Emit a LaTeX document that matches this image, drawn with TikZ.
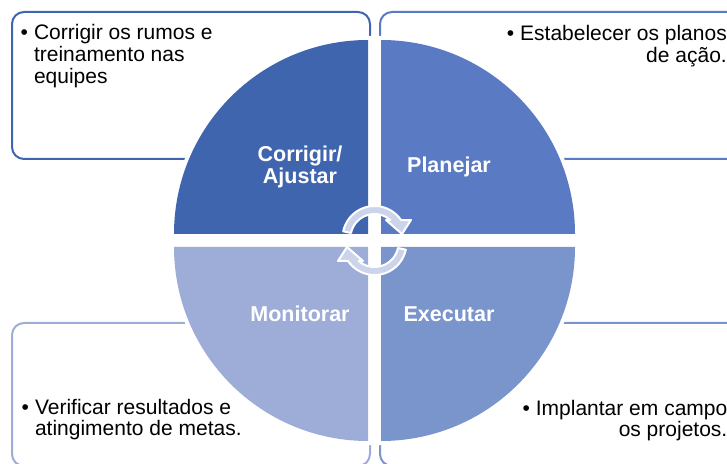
\documentclass[tikz,border=0pt]{standalone}
\usepackage{fontspec}
\setmainfont{Liberation Sans}

\definecolor{qone}{HTML}{3F65AF}
\definecolor{qtwo}{HTML}{5A7BC4}
\definecolor{qthree}{HTML}{7A95CC}
\definecolor{qfour}{HTML}{9EADD8}
\definecolor{arrowfill}{HTML}{CCD4EB}

\begin{document}
\begin{tikzpicture}[
        x=1pt, y=1pt,
        quad/.style={fill=#1, preaction={draw=white, line width=8pt}},
        lbl/.style={text=white, font=\fontsize{21.5}{21}\selectfont\bfseries, inner sep=0pt, anchor=base}
        ]
    % Define styles
    \tikzstyle{frame} = [line width=2pt, rounded corners=12pt]
    \tikzstyle{bullets} = [font=\fontsize{21}{21.5}\selectfont, inner sep=0pt]
    \tikzstyle{cycarrow} = [fill=arrowfill, draw=white, line width=2pt, line join=round]

    \useasboundingbox (0,0) rectangle (727,463);
    \clip (0,0) rectangle (727,463);

    % Define text boxes behind the circle
    \draw[frame, draw=qone] (12,304) rectangle (370,451);
    \draw[frame, draw=qtwo] (380,304) rectangle (745,451);
    \draw[frame, draw=qfour] (12,-3) rectangle (370,140);
    \draw[frame, draw=qthree] (380,-3) rectangle (745,140);

    % Define the four quarters
    \path[quad=qone] (368,229) -- (368,423) arc[start angle=90, end angle=180, radius=194] -- cycle;
    \path[quad=qtwo] (381,229) -- (575,229) arc[start angle=0, end angle=90, radius=194] -- cycle;
    \path[quad=qthree] (381,216) -- (381,22) arc[start angle=-90, end angle=0, radius=194] -- cycle;
    \path[quad=qfour] (368,216) -- (174,216) arc[start angle=180, end angle=270, radius=194] -- cycle;

    % Draw the two turning arrows
    \begin{scope}[shift={(374.5,225)}]
        \filldraw[cycarrow] (168:32) arc[start angle=168, end angle=34, radius=32] -- (36.5,18) -- (27.5,4) -- (11.5,18) -- (15.9,18) arc[start angle=48.5, end angle=168, radius=24] -- cycle;
    \end{scope}
    \begin{scope}[shift={(374.5,220)}, rotate=180]
        \filldraw[cycarrow] (168:32) arc[start angle=168, end angle=34, radius=32] -- (36.5,18) -- (27.5,4) -- (11.5,18) -- (15.9,18) arc[start angle=48.5, end angle=168, radius=24] -- cycle;
    \end{scope}

    % Define quarter labels
    \node[lbl] (corrigir) at (300,301) {\begin{tabular}[t]{@{}c@{}}Corrigir/\\Ajustar\end{tabular}};
    \node[lbl] (planejar) at (449,290) {Planejar};
    \node[lbl] (monitorar) at (300,141) {Monitorar};
    \node[lbl] (executar) at (449,141) {Executar};

    % Define bullet texts
    \node[bullets, anchor=base west] (tltext) at (20.5,423) {\begin{tabular}[t]{@{}l@{\hspace{6pt}}l@{}}\textbullet & Corrigir os rumos e\\ & treinamento nas\\ & equipes\end{tabular}};
    \node[bullets, anchor=base east] (trtext) at (727,422) {\begin{tabular}[t]{@{}l@{\hspace{6pt}}r@{}}\textbullet & Estabelecer os planos\\ & de ação.\end{tabular}};
    \node[bullets, anchor=base west] (bltext) at (21.5,49) {\begin{tabular}[t]{@{}l@{\hspace{6pt}}l@{}}\textbullet & Verificar resultados e\\ & atingimento de metas.\end{tabular}};
    \node[bullets, anchor=base east] (brtext) at (727.5,48) {\begin{tabular}[t]{@{}l@{\hspace{6pt}}r@{}}\textbullet & Implantar em campo\\ & os projetos.\end{tabular}};

\end{tikzpicture}
\end{document}
